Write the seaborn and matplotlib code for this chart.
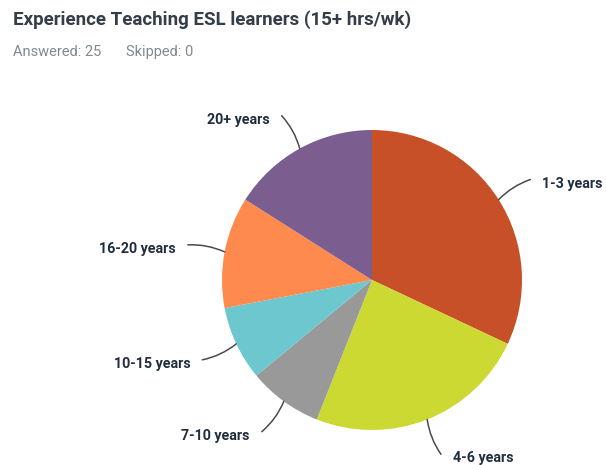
import numpy as np
import matplotlib
matplotlib.use('Agg')
import matplotlib.pyplot as plt
import matplotlib.transforms as mtransforms
import seaborn as sns

# data
labels = ['1-3 years', '4-6 years', '7-10 years', '10-15 years', '16-20 years', '20+ years']
counts = [8, 6, 2, 2, 3, 4]
colors = ['#C75028', '#CCD932', '#999999', '#6CC8CE', '#FF8A4E', '#7B5E8F']
title = 'Experience Teaching ESL learners (15+ hrs/wk)'
answered = 25
skipped = 0

sns.set_theme(style='white')
plt.rcParams['font.family'] = ['Roboto', 'DejaVu Sans']

W, H = 606, 465
fig = plt.figure(figsize=(W / 100, H / 100), dpi=100)
fig.patch.set_facecolor('white')

# pie axes: centre (372, 280) px, radius 150 px
cx, cy, r = 372, 280, 150
ax = fig.add_axes([(cx - r) / W, (H - cy - r) / H, 2 * r / W, 2 * r / H])
wedges, _ = ax.pie(counts, colors=sns.color_palette(colors), startangle=90,
                   counterclock=False, radius=1.0,
                   wedgeprops=dict(linewidth=0))
ax.set_xlim(-1, 1)
ax.set_ylim(-1, 1)
ax.set_aspect('equal')
ax.axis('off')

label_color = '#1F2D3D'
for w, lab in zip(wedges, labels):
    ang = np.deg2rad((w.theta1 + w.theta2) / 2)
    xb, yb = np.cos(ang), np.sin(ang)
    xa, ya = 1.25 * np.cos(ang), 1.25 * np.sin(ang)
    rad = 0.12 * np.sign(ya - yb) * np.sign(xa - xb)
    ax.annotate('', xy=(xb, yb), xytext=(xa, ya),
                arrowprops=dict(arrowstyle='-', color='#4A4A4A', lw=1.1,
                                shrinkA=0, shrinkB=0,
                                connectionstyle=f'arc3,rad={rad:.2f}'),
                annotation_clip=False)
    right = xa > 0
    trans = mtransforms.offset_copy(ax.transData, fig=fig,
                                    x=12 if right else -12, y=-4, units='dots')
    ax.text(xa, ya, lab, transform=trans, ha='left' if right else 'right',
            va='center', fontsize=10.3, fontweight='bold', color=label_color,
            clip_on=False)

fig.text(13 / W, 1 - 20 / H, title, ha='left', va='center',
         fontsize=13.5, fontweight='bold', color='#333E48')
fig.text(13 / W, 1 - 52 / H, f'Answered: {answered}', ha='left', va='center',
         fontsize=10.5, color='#80898F')
fig.text(126 / W, 1 - 52 / H, f'Skipped: {skipped}', ha='left', va='center',
         fontsize=10.5, color='#80898F')

fig.savefig('out.png', dpi=100, facecolor='white')
